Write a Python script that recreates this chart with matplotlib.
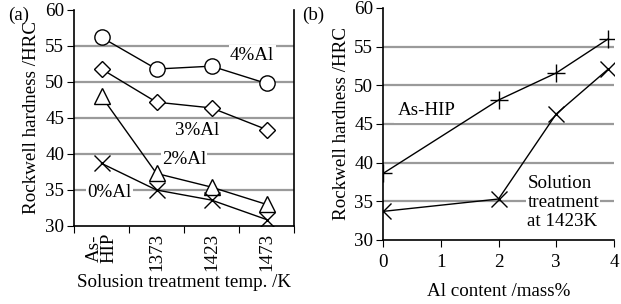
import matplotlib
matplotlib.use("Agg")
import matplotlib.pyplot as plt

plt.rcParams['font.family'] = ['Liberation Serif', 'DejaVu Serif']

# Panel (a)
temps = ["As-\nHIP", "1373", "1423", "1473"]
al4 = [56.2, 51.8, 52.2, 49.8]
al3 = [51.8, 47.2, 46.4, 43.4]
al2 = [48.0, 37.3, 35.4, 33.0]
al0 = [38.7, 35.0, 33.6, 30.9]

# Panel (b)
al_content = [0, 2, 3, 3.9]
as_hip = [38.6, 48.1, 51.6, 56.0]
sol_1423 = [33.7, 35.3, 46.3, 52.1]

W, H = 621, 304
fig = plt.figure(figsize=(W/100, H/100), dpi=100)

def px(l, t, r, b):
    return [l/W, 1-b/H, (r-l)/W, (b-t)/H]

fs = 13.7
gridc = '#9a9a9a'

ax = fig.add_axes(px(74, 10, 294, 226))
xs = list(range(len(temps)))
for yv in [35, 40, 45, 50, 55]:
    ax.axhline(yv, color=gridc, lw=1.6, zorder=1)
ax.plot(xs, al4, '-', color='k', lw=1, marker='o', ms=11, mfc='white', mec='k', mew=1, zorder=4)
ax.plot(xs, al3, '-', color='k', lw=1, marker='D', ms=8, mfc='white', mec='k', mew=1, zorder=4)
ax.plot(xs, al2, '-', color='k', lw=1, marker='^', ms=12, mfc='white', mec='k', mew=1, zorder=4)
ax.plot(xs, al0, '-', color='k', lw=1, marker='x', ms=11, mec='k', mew=1, zorder=4)
bb = dict(facecolor='white', edgecolor='none', pad=1)
ax.text(2.74, 53.75, "4%Al", fontsize=fs, ha='center', va='center', bbox=bb, zorder=3)
ax.text(1.74, 43.3, "3%Al", fontsize=fs, ha='center', va='center', bbox=bb, zorder=3)
ax.text(1.5, 39.2, "2%Al", fontsize=fs, ha='center', va='center', bbox=bb, zorder=3)
ax.text(0.15, 34.6, "0%Al", fontsize=fs, ha='center', va='center', bbox=bb, zorder=3)
ax.set_xlim(-0.5, 3.5)
ax.set_ylim(30, 60)
ax.set_yticks([30, 35, 40, 45, 50, 55, 60])
ax.set_xticks([-0.5, 0.5, 1.5, 2.5, 3.5])
ax.set_xticklabels([])
ax.set_xticks(xs, minor=True)
ax.set_xticklabels(temps, minor=True, rotation=90, fontsize=fs, linespacing=0.85)
ax.tick_params(axis='x', which='minor', length=0, pad=5)
ax.tick_params(axis='x', which='major', length=5, direction='out')
ax.tick_params(axis='y', length=5, direction='out', labelsize=fs, pad=2)
ax.spines['top'].set_visible(False)
for s in ['left', 'bottom', 'right']:
    ax.spines[s].set_linewidth(1.2)
ax.set_ylabel("Rockwell hardness /HRC", fontsize=fs, labelpad=4)
ax.set_xlabel("Solusion treatment temp. /K", fontsize=fs, labelpad=2)
fig.text(8/W, 1-15/H, "(a)", fontsize=fs, ha='left', va='center')

# Panel (b)
bx = fig.add_axes(px(383, 8, 614, 240))
for yv in [35, 40, 45, 50, 55]:
    bx.axhline(yv, color=gridc, lw=1.6, zorder=1)
bx.plot(al_content, as_hip, '-', color='k', lw=1, marker='+', ms=13, mew=1, zorder=4)
bx.plot(al_content, sol_1423, '-', color='k', lw=1, marker='x', ms=12, mew=1, zorder=4)
bx.text(0.76, 46.8, "As-HIP", fontsize=fs, ha='center', va='center',
        bbox=dict(facecolor='white', edgecolor='none', pad=3), zorder=5)
bx.text(2.5, 34.8, "Solution\ntreatment\nat 1423K", fontsize=fs, ha='left', va='center',
        bbox=bb, zorder=3, linespacing=1.15)
bx.set_xlim(0, 4)
bx.set_ylim(30, 60)
bx.set_xticks([0, 1, 2, 3, 4])
bx.set_yticks([30, 35, 40, 45, 50, 55, 60])
bx.tick_params(axis='both', length=5, direction='out', labelsize=fs, pad=2)
bx.tick_params(axis='x', pad=5)
bx.spines['top'].set_visible(False)
bx.spines['right'].set_visible(False)
for s in ['left', 'bottom']:
    bx.spines[s].set_linewidth(1.2)
bx.set_ylabel("Rockwell hardness /HRC", fontsize=fs, labelpad=3)
bx.set_xlabel("Al content /mass%", fontsize=fs, labelpad=9)
fig.text(302/W, 1-15/H, "(b)", fontsize=fs, ha='left', va='center')

fig.savefig("out.png", dpi=100)
